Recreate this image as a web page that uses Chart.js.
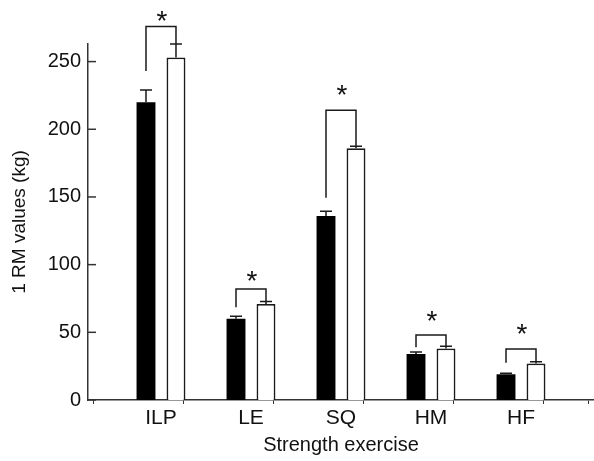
<!DOCTYPE html>
<html>
<head>
<meta charset="utf-8">
<script src="https://cdn.jsdelivr.net/npm/chart.js@4.4.0/dist/chart.umd.min.js"></script>
<style>
  html, body { margin: 0; padding: 0; background: #fff; }
  #wrap { width: 594px; height: 461px; position: relative; }
</style>
</head>
<body>
<div id="wrap"><canvas id="chart"></canvas></div>
<script>
// exercises and 1 RM values (kg)
var exercises = ['ILP', 'LE', 'SQ', 'HM', 'HF'];
var preValues = [220, 60, 136, 34, 19];
var preSem = [9, 1.8, 3.5, 1.5, 0.8];
var postValues = [253, 71, 186, 38, 27];
var postSem = [10, 1.7, 1.4, 1.7, 1.2];

// significance brackets (kg units)
var bracketTop = [276, 82, 214, 48, 37.7];
var bracketLeftEnd = [243, 68.5, 149.5, 39, 27.6];
var starLevel = [286, 94, 231, 64, 55];

var yTicks = [0, 50, 100, 150, 200, 250];

var FONT = "'Liberation Sans', Arial, Helvetica, sans-serif";
var INK = '#111';
var AXIS = '#333';

function toPoints(vals) {
  return vals.map(function (v, i) { return { x: i, y: v }; });
}

// error bars, brackets, stars and inward y ticks
var extrasPlugin = {
  id: 'extras',
  afterDatasetsDraw: function (chart) {
    var ctx = chart.ctx;
    var x = chart.scales.x, y = chart.scales.y;
    var pre = chart.getDatasetMeta(0).data;
    var post = chart.getDatasetMeta(1).data;
    ctx.save();
    ctx.strokeStyle = '#1a1a1a';
    ctx.lineWidth = 1.5;

    function errBar(el, v, s) {
      var top = y.getPixelForValue(v + s);
      ctx.beginPath();
      ctx.moveTo(el.x, el.y);
      ctx.lineTo(el.x, top);
      ctx.moveTo(el.x - 6, top);
      ctx.lineTo(el.x + 6, top);
      ctx.stroke();
    }

    exercises.forEach(function (name, i) {
      errBar(pre[i], preValues[i], preSem[i]);
      errBar(post[i], postValues[i], postSem[i]);

      var topY = y.getPixelForValue(bracketTop[i]);
      ctx.beginPath();
      ctx.moveTo(pre[i].x, y.getPixelForValue(bracketLeftEnd[i]));
      ctx.lineTo(pre[i].x, topY);
      ctx.lineTo(post[i].x, topY);
      ctx.lineTo(post[i].x, y.getPixelForValue(postValues[i] + postSem[i]));
      ctx.stroke();

      ctx.fillStyle = INK;
      ctx.font = '28px ' + FONT;
      ctx.textAlign = 'center';
      ctx.textBaseline = 'alphabetic';
      ctx.fillText('*', x.getPixelForValue(i) + 1, y.getPixelForValue(starLevel[i]) + 17);
    });

    // y ticks point into the plot
    ctx.strokeStyle = AXIS;
    yTicks.forEach(function (t) {
      var py = y.getPixelForValue(t);
      ctx.beginPath();
      ctx.moveTo(x.left, py);
      ctx.lineTo(x.left + 8, py);
      ctx.stroke();
    });
    ctx.restore();
  }
};

var config = {
  type: 'bar',
  data: {
    datasets: [{
      label: 'Before',
      data: toPoints(preValues),
      backgroundColor: '#000',
      borderColor: '#000',
      borderWidth: 0
    }, {
      label: 'After',
      data: toPoints(postValues),
      backgroundColor: '#fff',
      borderColor: '#1a1a1a',
      borderWidth: 1.8
    }]
  },
  options: {
    responsive: true,
    maintainAspectRatio: false,
    animation: false,
    // tick spacing is half a category, so the ruler is 45 px
    categoryPercentage: 1.333,
    barPercentage: 0.63,
    layout: { padding: { top: 44, right: 0, bottom: 0, left: 0 } },
    plugins: {
      legend: { display: false },
      tooltip: { enabled: false }
    },
    scales: {
      x: {
        type: 'linear',
        min: -0.811,
        max: 4.811,
        offset: false,
        afterBuildTicks: function (scale) {
          var t = [];
          for (var v = -0.5; v <= 4.5; v += 0.5) t.push({ value: v });
          scale.ticks = t;
        },
        afterFit: function (scale) { scale.height = 61; },
        border: { display: true, color: AXIS, width: 1.5 },
        grid: {
          drawOnChartArea: false,
          drawTicks: true,
          tickLength: 4,
          lineWidth: 1,
          color: function (c) {
            return (c.tick && Number.isInteger(c.tick.value)) ? 'rgba(0,0,0,0)' : AXIS;
          }
        },
        ticks: {
          autoSkip: false,
          maxRotation: 0,
          padding: 2,
          color: INK,
          font: { family: FONT, size: 21 },
          callback: function (v) {
            return Number.isInteger(v) ? exercises[v] : '';
          }
        },
        title: {
          display: true,
          text: 'Strength exercise',
          color: INK,
          font: { family: FONT, size: 20 },
          padding: { top: 0, bottom: 4 }
        }
      },
      y: {
        min: 0,
        max: 263,
        afterBuildTicks: function (scale) {
          scale.ticks = yTicks.map(function (v) { return { value: v }; });
        },
        afterFit: function (scale) { scale.width = 88; },
        border: { display: true, color: AXIS, width: 1.5 },
        grid: { display: false, drawTicks: false },
        ticks: {
          padding: 7,
          color: INK,
          font: { family: FONT, size: 20 }
        },
        title: {
          display: true,
          text: '1 RM values (kg)',
          color: INK,
          font: { family: FONT, size: 19 },
          padding: { top: 8, bottom: 0 }
        }
      }
    }
  },
  plugins: [extrasPlugin]
};

new Chart(document.getElementById('chart'), config);
</script>
</body>
</html>
